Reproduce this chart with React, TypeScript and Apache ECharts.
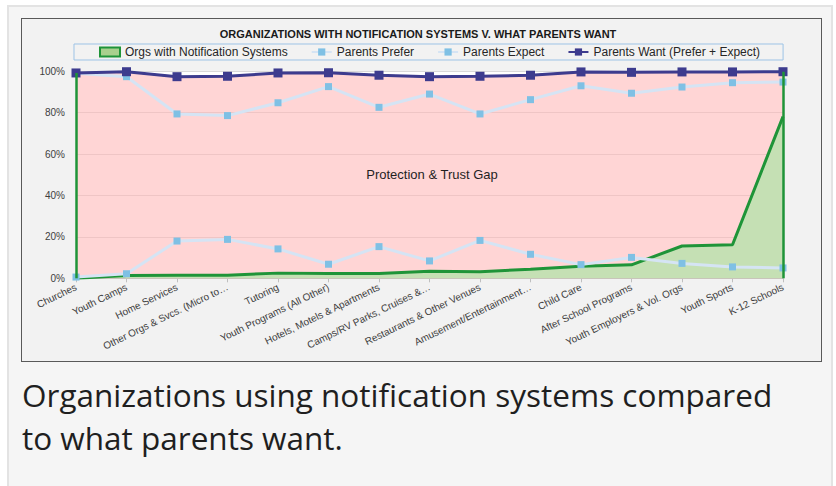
import React, { useEffect, useRef } from 'react';
import * as echarts from 'echarts';

const categories = [
  'Churches',
  'Youth Camps',
  'Home Services',
  'Other Orgs & Svcs. (Micro to\u2026',
  'Tutoring',
  'Youth Programs (All Other)',
  'Hotels, Motels & Apartments',
  'Camps/RV Parks, Cruises &\u2026',
  'Restaurants & Other Venues',
  'Amusement/Entertainment\u2026',
  'Child Care',
  'After School Programs',
  'Youth Employers & Vol. Orgs',
  'Youth Sports',
  'K-12 Schools',
];
const orgsWithSystems = [0, 1.3, 1.5, 1.5, 2.5, 2.3, 2.3, 3.4, 3.2, 4.4, 5.8, 6.5, 15.6, 16.2, 78.1];
const parentsPrefer = [99.0, 97.4, 79.4, 78.6, 84.8, 92.6, 82.6, 89.0, 79.4, 86.3, 93.0, 89.4, 92.4, 94.5, 94.8];
const parentsExpect = [0.6, 2.2, 18.0, 18.8, 14.2, 6.8, 15.3, 8.4, 18.3, 11.6, 6.6, 10.1, 7.2, 5.5, 5.0];
const parentsWant = [99.2, 99.8, 97.4, 97.6, 99.2, 99.3, 98.1, 97.4, 97.6, 98.1, 99.7, 99.5, 99.7, 99.7, 99.8];
const yTicks = [0, 20, 40, 60, 80, 100];

const FONT = '"Liberation Sans", Arial, sans-serif';
const GREEN = '#1f9438';
const NAVY = '#3d3b8e';

export default function App() {
  const ref = useRef<HTMLDivElement>(null);
  useEffect(() => {
    document.body.style.margin = '0';
    if (!ref.current) return;
    const chart = echarts.init(ref.current, null, { renderer: 'svg' });
    const last = categories.length - 1;
    chart.setOption({
      animation: false,
      backgroundColor: 'transparent',
      title: {
        text: 'ORGANIZATIONS WITH NOTIFICATION SYSTEMS V. WHAT PARENTS WANT',
        left: 'center',
        top: 28,
        padding: 0,
        textStyle: { fontSize: 11, fontWeight: 'bold', color: '#1a1a1a', fontFamily: FONT },
      },
      legend: {
        top: 44,
        left: 74,
        padding: [2, 23, 2, 25],
        itemGap: 23,
        itemWidth: 20,
        itemHeight: 9,
        borderColor: '#9dc3e6',
        borderWidth: 1,
        textStyle: { fontSize: 12, color: '#262626', fontFamily: FONT },
        data: [
          { name: 'Orgs with Notification Systems', icon: 'rect', itemStyle: { color: '#a9d08e', borderColor: GREEN, borderWidth: 2 } },
          'Parents Prefer',
          'Parents Expect',
          'Parents Want (Prefer + Expect)',
        ],
      },
      grid: {
        left: 76,
        right: 53,
        top: 71.3,
        bottom: 207.7,
        show: true,
        backgroundColor: '#ffffff',
        borderWidth: 0,
      },
      xAxis: {
        type: 'category',
        boundaryGap: false,
        data: categories,
        axisLine: { lineStyle: { color: '#bfbfbf', width: 1 } },
        axisTick: { show: true, length: 4, lineStyle: { color: '#bfbfbf' } },
        axisLabel: { rotate: 26, fontSize: 10, color: '#404040', margin: 8, interval: 0, fontFamily: FONT },
        splitLine: { show: false },
      },
      yAxis: {
        type: 'value',
        min: yTicks[0],
        max: yTicks[yTicks.length - 1],
        interval: 20,
        axisLabel: { formatter: '{value}%', fontSize: 10, color: '#404040', margin: 11, fontFamily: FONT },
        axisLine: { show: false },
        axisTick: { show: false },
        splitLine: { lineStyle: { color: '#d9d9d9', width: 1 } },
      },
      graphic: [
        {
          type: 'text',
          x: 432,
          y: 174,
          style: { text: 'Protection & Trust Gap', font: '13px ' + FONT, fill: '#1f1f1f', textAlign: 'center', textVerticalAlign: 'middle' },
          z: 10,
        },
        {
          type: 'text',
          x: 22,
          y: 394,
          style: { text: 'Organizations using notification systems compared', font: '31.5px "Open Sans", sans-serif', fill: '#1f1f1f', textAlign: 'left', textVerticalAlign: 'middle' },
        },
        {
          type: 'text',
          x: 22,
          y: 437,
          style: { text: 'to what parents want.', font: '31.5px "Open Sans", sans-serif', fill: '#1f1f1f', textAlign: 'left', textVerticalAlign: 'middle' },
        },
      ],
      series: [
        {
          name: 'Protection & Trust Gap',
          type: 'line',
          data: parentsWant,
          symbol: 'none',
          silent: true,
          lineStyle: { color: GREEN, width: 1.5 },
          areaStyle: { color: 'rgba(255,182,182,0.58)', opacity: 1 },
          z: 1,
        },
        {
          name: 'Orgs with Notification Systems',
          type: 'line',
          data: orgsWithSystems,
          symbol: 'none',
          silent: true,
          lineStyle: { color: GREEN, width: 3 },
          itemStyle: { color: '#a9d08e', borderColor: GREEN },
          areaStyle: { color: '#c5e0b4', opacity: 1 },
          z: 2,
          markLine: {
            silent: true,
            symbol: ['none', 'none'],
            label: { show: false },
            lineStyle: { color: GREEN, width: 2.5, type: 'solid' },
            data: [
              [{ coord: [0, 0] }, { coord: [0, parentsWant[0]] }],
              [{ coord: [last, 0] }, { coord: [last, parentsWant[last]] }],
            ],
          },
        },
        {
          name: 'Parents Prefer',
          type: 'line',
          data: parentsPrefer,
          symbol: 'rect',
          symbolSize: 7,
          lineStyle: { color: '#d5e4f4', width: 3 },
          itemStyle: { color: '#7fc0e4' },
          z: 3,
        },
        {
          name: 'Parents Expect',
          type: 'line',
          data: parentsExpect,
          symbol: 'rect',
          symbolSize: 7,
          lineStyle: { color: '#d5e4f4', width: 3 },
          itemStyle: { color: '#7fc0e4' },
          z: 3,
        },
        {
          name: 'Parents Want (Prefer + Expect)',
          type: 'line',
          data: parentsWant,
          symbol: 'rect',
          symbolSize: 9,
          lineStyle: { color: NAVY, width: 3 },
          itemStyle: { color: NAVY },
          z: 4,
        },
      ],
    });
    return () => chart.dispose();
  }, []);

  return (
    <div style={{ position: 'relative', width: 836, height: 486, overflow: 'hidden', background: '#ffffff' }}>
      <div style={{ position: 'absolute', left: 7, top: 5, width: 822, height: 490, border: '2px solid #e3e3e3', background: '#f5f5f5' }} />
      <div style={{ position: 'absolute', left: 21, top: 18, width: 799, height: 342, border: '1px solid #595959', background: '#f2f2f2' }} />
      <div ref={ref} style={{ position: 'absolute', left: 0, top: 0, width: 836, height: 486 }} />
    </div>
  );
}
